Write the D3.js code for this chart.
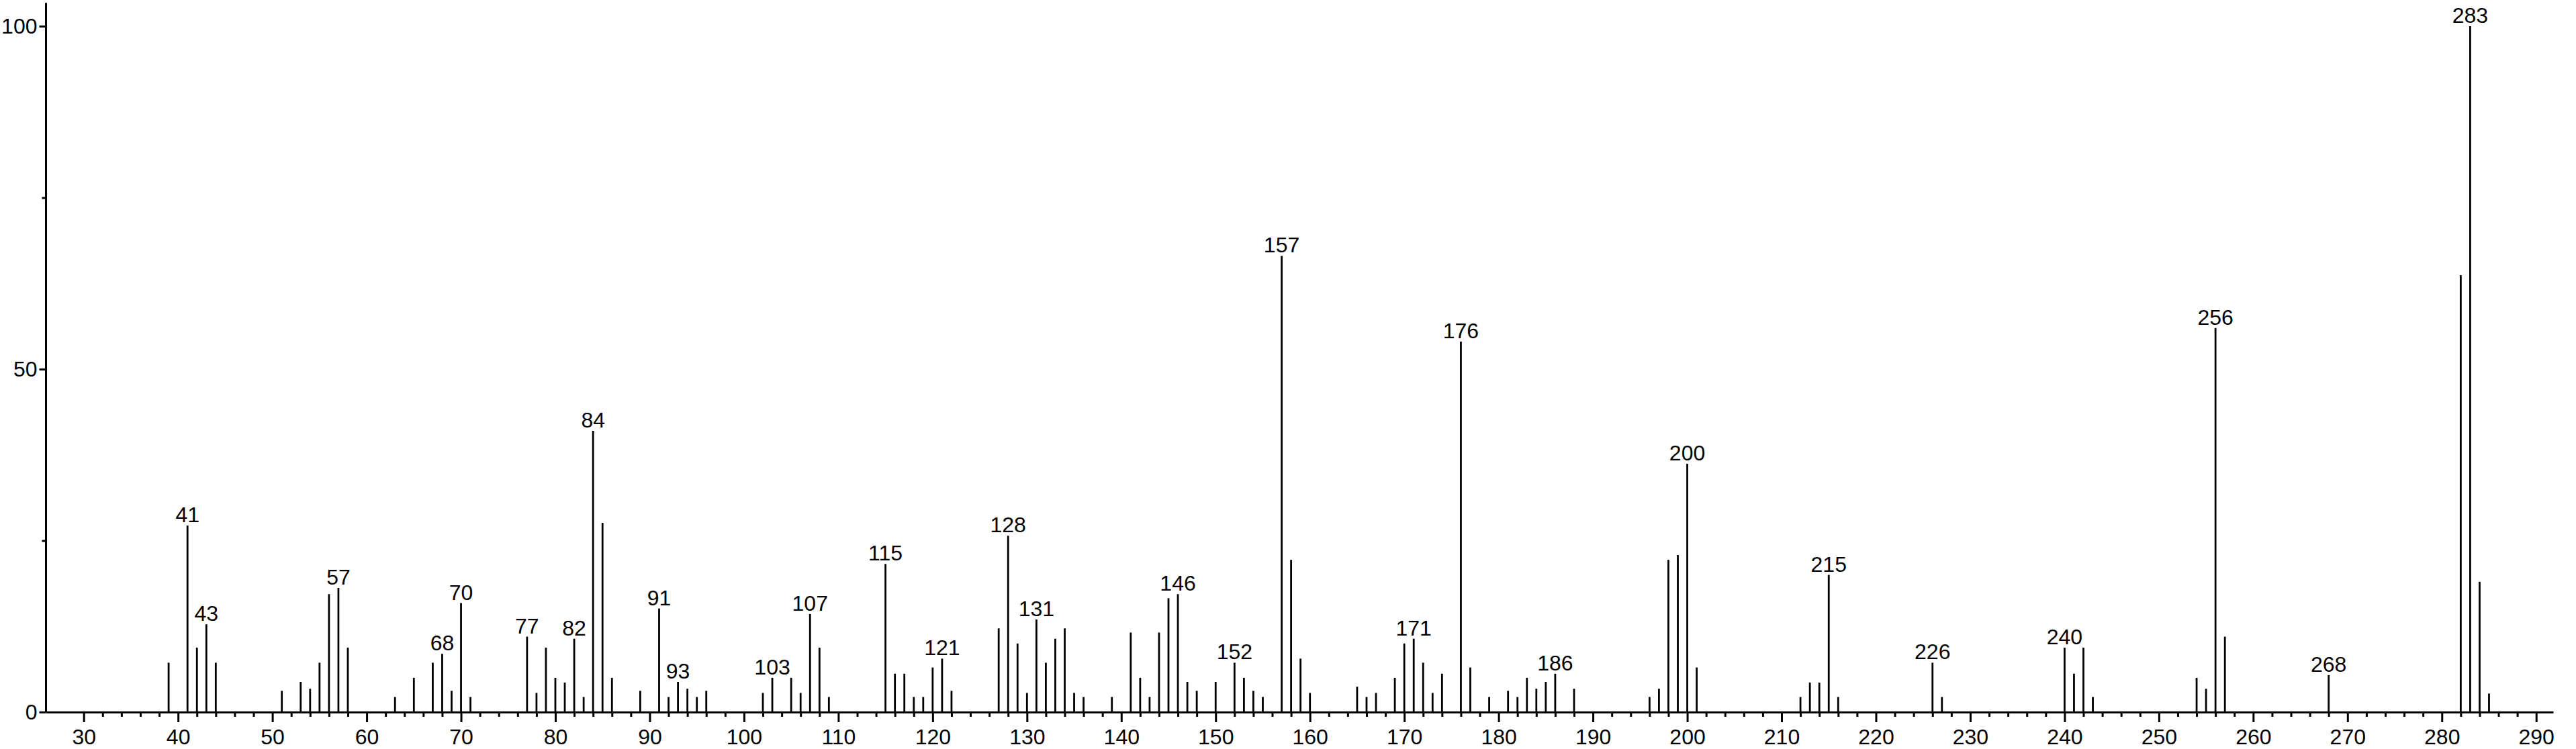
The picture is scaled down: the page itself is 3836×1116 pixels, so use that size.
<!DOCTYPE html>
<html lang="en">
<head>
<meta charset="utf-8">
<title>Mass spectrum</title>
<script src="https://d3js.org/d3.v7.min.js"></script>
<style>
    body { margin: 0; background: #fff; }
    svg { display: block; }
    .axis path, .axis line { stroke: #000; stroke-width: 3; }
    .axis text { fill: #000; font-family: "Liberation Sans", Arial, sans-serif; font-size: 32px; }
    .peak { stroke: #000; stroke-width: 2.8; }
    .plabel { font-family: "Liberation Sans", Arial, sans-serif; font-size: 32px; fill: #000; }
</style>
</head>
<body>
<div id="chart"></div>
<script>
// m/z of every peak and its relative intensity (%)
const mz = [39, 41, 42, 43, 44, 51, 53, 54, 55, 56, 57, 58, 63, 65, 67, 68, 69, 70, 71,
    77, 78, 79, 80, 81, 82, 83, 84, 85, 86, 89, 91, 92, 93, 94, 95, 96,
    102, 103, 105, 106, 107, 108, 109, 115, 116, 117, 118, 119, 120, 121, 122,
    127, 128, 129, 130, 131, 132, 133, 134, 135, 136, 139, 141, 142, 143, 144, 145, 146, 147, 148,
    150, 152, 153, 154, 155, 157, 158, 159, 160, 165, 166, 167, 169, 170, 171, 172, 173, 174,
    176, 177, 179, 181, 182, 183, 184, 185, 186, 188, 196, 197, 198, 199, 200, 201,
    212, 213, 214, 215, 216, 226, 227, 240, 241, 242, 243, 254, 255, 256, 257, 268, 282, 283, 284, 285];
const intensity = [7.2, 27.2, 9.4, 12.8, 7.2, 3.1, 4.4, 3.4, 7.2, 17.2, 18.1, 9.4, 2.2, 5.0, 7.2, 8.5, 3.1, 15.9, 2.2,
    11.0, 2.8, 9.4, 5.0, 4.3, 10.7, 2.2, 41.0, 27.6, 5.0, 3.1, 15.1, 2.2, 4.4, 3.4, 2.2, 3.1,
    2.8, 5.0, 5.0, 2.8, 14.3, 9.4, 2.2, 21.6, 5.6, 5.6, 2.2, 2.2, 6.5, 7.8, 3.1,
    12.2, 25.7, 10.0, 2.8, 13.5, 7.2, 10.7, 12.2, 2.8, 2.2, 2.2, 11.6, 5.0, 2.2, 11.6, 16.6, 17.2, 4.4, 3.1,
    4.4, 7.2, 5.0, 3.1, 2.2, 66.5, 22.2, 7.8, 2.8, 3.7, 2.2, 2.8, 5.0, 10.0, 10.7, 7.2, 2.8, 5.6,
    54.0, 6.5, 2.2, 3.1, 2.2, 5.0, 3.4, 4.4, 5.6, 3.4, 2.2, 3.4, 22.2, 22.9, 36.2, 6.5,
    2.2, 4.3, 4.3, 20.0, 2.2, 7.2, 2.2, 9.4, 5.6, 9.4, 2.2, 5.0, 3.4, 56.0, 11.0, 5.4, 63.7, 100, 19.0, 2.7];
// peaks that carry an m/z label
const labeled = [41, 43, 57, 68, 70, 77, 82, 84, 91, 93, 103, 107, 115, 121, 128, 131, 146,
    152, 157, 171, 176, 186, 200, 215, 226, 240, 256, 268, 283];
const xMajor = d3.range(30, 291, 10);
const xMinor = d3.range(32, 291, 2).filter(v => v % 10 !== 0);
const yMajor = [0, 50, 100];
const yMinor = [25, 75];

const width = 3836, height = 1116;
const svg = d3.select("#chart").append("svg")
    .attr("width", width).attr("height", height);

const x = d3.scaleLinear().domain([26, 291.8]).range([68.5, 3802]);
const y = d3.scaleLinear().domain([0, 100]).range([1061, 39]);

const peaks = mz.map((m, i) => ({mz: m, val: intensity[i]}));

// x axis: minor ticks first, then labelled major ticks
svg.append("g").attr("class", "axis")
    .attr("transform", "translate(0," + y(0) + ")")
    .call(d3.axisBottom(x).tickValues(xMinor).tickSize(7).tickFormat(""))
    .call(g => g.select(".domain").remove());
svg.append("g").attr("class", "axis")
    .attr("transform", "translate(0," + y(0) + ")")
    .call(d3.axisBottom(x).tickValues(xMajor).tickSize(15).tickSizeOuter(0).tickPadding(10).tickFormat(d3.format("d")));

// y axis
svg.append("g").attr("class", "axis")
    .attr("transform", "translate(" + x(26) + ",0)")
    .call(d3.axisLeft(y).tickValues(yMinor).tickSize(6).tickFormat(""))
    .call(g => g.select(".domain").remove());
svg.append("g").attr("class", "axis")
    .attr("transform", "translate(" + x(26) + ",0)")
    .call(d3.axisLeft(y).tickValues(yMajor).tickSize(10).tickSizeOuter(0).tickPadding(3))
    .call(g => g.select(".domain").remove());
svg.append("line").attr("class", "axis")
    .attr("x1", x(26)).attr("x2", x(26))
    .attr("y1", y(103.4)).attr("y2", y(0))
    .attr("stroke", "#000").attr("stroke-width", 3);

// stick peaks
svg.append("g").selectAll("line")
    .data(peaks).join("line")
    .attr("class", "peak")
    .attr("x1", d => x(d.mz)).attr("x2", d => x(d.mz))
    .attr("y1", y(0)).attr("y2", d => y(d.val));

// peak labels
svg.append("g").selectAll("text")
    .data(peaks.filter(d => labeled.includes(d.mz))).join("text")
    .attr("class", "plabel")
    .attr("x", d => x(d.mz))
    .attr("y", d => y(d.val) - 5)
    .attr("text-anchor", "middle")
    .text(d => d.mz);
</script>
</body>
</html>
